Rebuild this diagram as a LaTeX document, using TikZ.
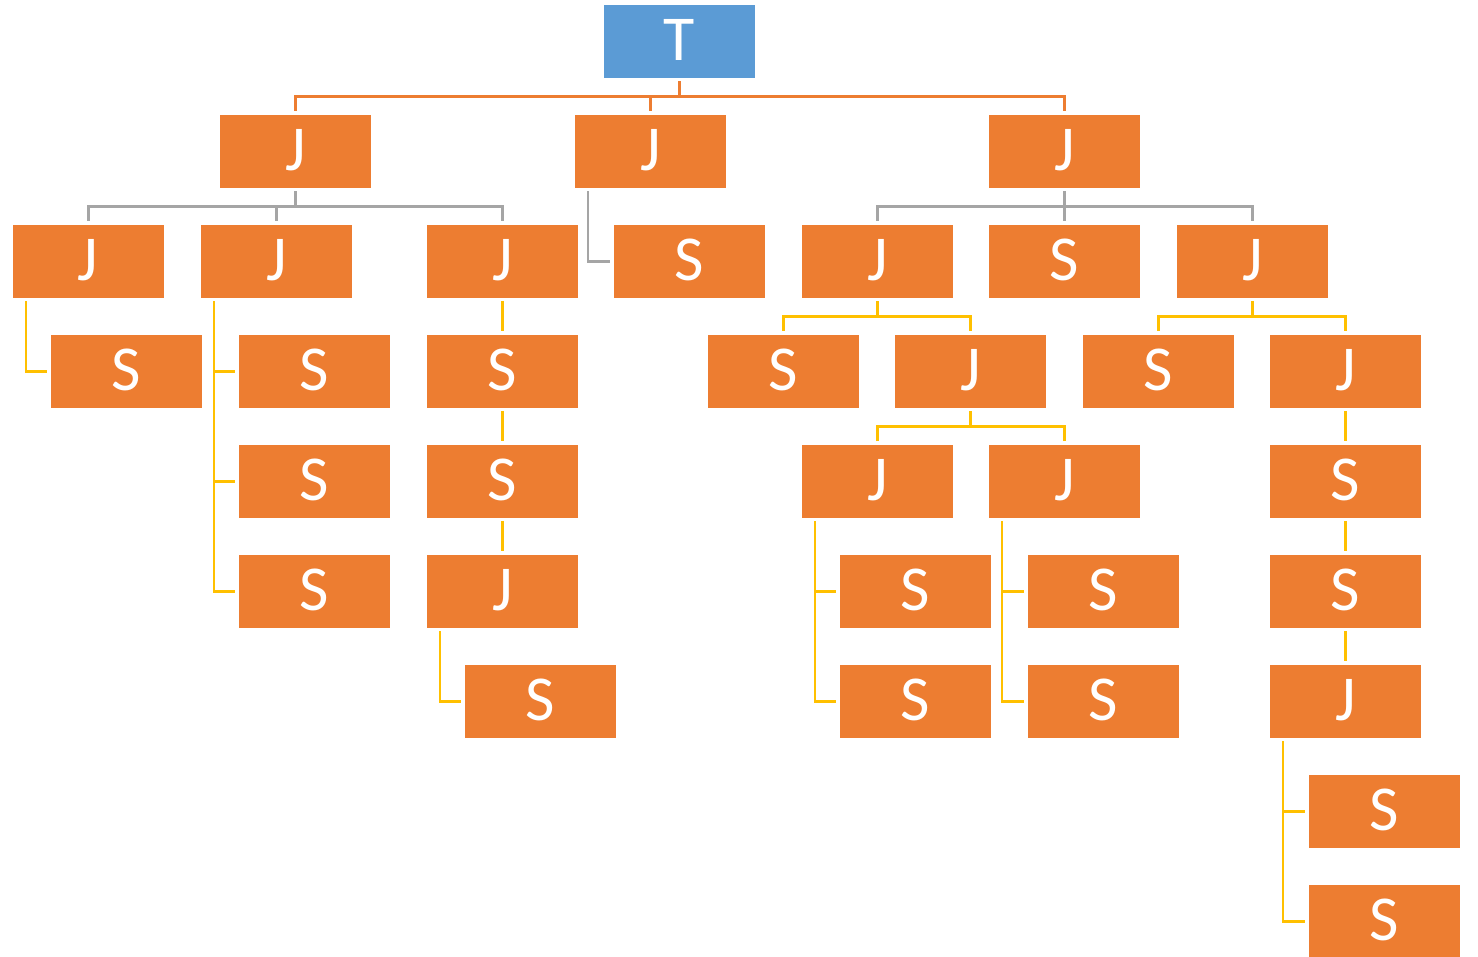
\documentclass[tikz,border=0pt]{standalone}
\usepackage{fontspec}
\setmainfont{Carlito}
\definecolor{borange}{HTML}{ED7D31}
\definecolor{bblue}{HTML}{5B9BD5}
\definecolor{lgray}{HTML}{A5A5A5}
\definecolor{lyellow}{HTML}{FFC000}
\tikzset{
  box/.style={anchor=north west, minimum width=152pt, minimum height=74pt, inner sep=0pt,
    fill=borange, draw=white, line width=0.4pt, text=white,
    font=\fontsize{64}{64}\selectfont},
  topbox/.style={box, fill=bblue},
  oline/.style={draw=borange, line width=2.7pt},
  gline/.style={draw=lgray, line width=2.7pt},
  yline/.style={draw=lyellow, line width=2.7pt},
}
\newcommand{\txt}[1]{\raisebox{2pt}{#1}}
\begin{document}
\begin{tikzpicture}[x=1pt,y=-1pt]
\useasboundingbox (0,0) rectangle (1478,957);
% row 0
\node[topbox] (T) at (603,4) {\txt{T}};
% row 1
\node[box] (a) at (219,114) {\txt{J}};
\node[box] (b) at (574,114) {\txt{J}};
\node[box] (c) at (988,114) {\txt{J}};
% row 2
\node[box] (a1) at (12,224) {\txt{J}};
\node[box] (a2) at (200,224) {\txt{J}};
\node[box] (a3) at (426,224) {\txt{J}};
\node[box] (b1) at (613,224) {\txt{S}};
\node[box] (c1) at (801,224) {\txt{J}};
\node[box] (c2) at (988,224) {\txt{S}};
\node[box] (c3) at (1176,224) {\txt{J}};
% row 3
\node[box] (a1s) at (50,334) {\txt{S}};
\node[box] (a2s1) at (238,334) {\txt{S}};
\node[box] (a3s1) at (426,334) {\txt{S}};
\node[box] (c1s) at (707,334) {\txt{S}};
\node[box] (c1j) at (894,334) {\txt{J}};
\node[box] (c3s) at (1082,334) {\txt{S}};
\node[box] (c3j) at (1269,334) {\txt{J}};
% row 4
\node[box] (a2s2) at (238,444) {\txt{S}};
\node[box] (a3s2) at (426,444) {\txt{S}};
\node[box] (c1ja) at (801,444) {\txt{J}};
\node[box] (c1jb) at (988,444) {\txt{J}};
\node[box] (c3s1) at (1269,444) {\txt{S}};
% row 5
\node[box] (a2s3) at (238,554) {\txt{S}};
\node[box] (a3j) at (426,554) {\txt{J}};
\node[box] (c1jas1) at (839,554) {\txt{S}};
\node[box] (c1jbs1) at (1027,554) {\txt{S}};
\node[box] (c3s2) at (1269,554) {\txt{S}};
% row 6
\node[box] (a3js) at (464,664) {\txt{S}};
\node[box] (c1jas2) at (839,664) {\txt{S}};
\node[box] (c1jbs2) at (1027,664) {\txt{S}};
\node[box] (c3j2) at (1269,664) {\txt{J}};
% row 7-8
\node[box] (c3j2s1) at (1308,774) {\txt{S}};
\node[box] (c3j2s2) at (1308,884) {\txt{S}};

% T -> level 1 (orange bus)
\draw[oline] ([yshift=-3pt]T.south) -- ([yshift=-18pt]T.south);
\foreach \n in {a,b,c}
  \draw[oline] ([yshift=3pt]\n.north) |- ([yshift=-18pt]T.south);

% a -> a1,a2,a3 (gray bus)
\draw[gline] ([yshift=-3pt]a.south) -- ([yshift=-18pt]a.south);
\foreach \n in {a1,a2,a3}
  \draw[gline] ([yshift=3pt]\n.north) |- ([yshift=-18pt]a.south);

% b -> b1 (gray side)
\draw[gline] ([xshift=14pt,yshift=-3pt]b.south west) |- ([xshift=-3pt]b1.west);

% c -> c1,c2,c3 (gray bus)
\draw[gline] ([yshift=-3pt]c.south) -- ([yshift=-18pt]c.south);
\foreach \n in {c1,c2,c3}
  \draw[gline] ([yshift=3pt]\n.north) |- ([yshift=-18pt]c.south);

% side connectors (yellow)
\draw[yline] ([xshift=14pt,yshift=-3pt]a1.south west) |- ([xshift=-3pt]a1s.west);
\foreach \n in {a2s1,a2s2,a2s3}
  \draw[yline] ([xshift=14pt,yshift=-3pt]a2.south west) |- ([xshift=-3pt]\n.west);
\draw[yline] ([xshift=14pt,yshift=-3pt]a3j.south west) |- ([xshift=-3pt]a3js.west);
\foreach \n in {c1jas1,c1jas2}
  \draw[yline] ([xshift=14pt,yshift=-3pt]c1ja.south west) |- ([xshift=-3pt]\n.west);
\foreach \n in {c1jbs1,c1jbs2}
  \draw[yline] ([xshift=14pt,yshift=-3pt]c1jb.south west) |- ([xshift=-3pt]\n.west);
\foreach \n in {c3j2s1,c3j2s2}
  \draw[yline] ([xshift=14pt,yshift=-3pt]c3j2.south west) |- ([xshift=-3pt]\n.west);

% vertical chains (yellow)
\draw[yline] ([yshift=-3pt]a3.south) -- ([yshift=3pt]a3s1.north);
\draw[yline] ([yshift=-3pt]a3s1.south) -- ([yshift=3pt]a3s2.north);
\draw[yline] ([yshift=-3pt]a3s2.south) -- ([yshift=3pt]a3j.north);
\draw[yline] ([yshift=-3pt]c3j.south) -- ([yshift=3pt]c3s1.north);
\draw[yline] ([yshift=-3pt]c3s1.south) -- ([yshift=3pt]c3s2.north);
\draw[yline] ([yshift=-3pt]c3s2.south) -- ([yshift=3pt]c3j2.north);

% yellow buses
\draw[yline] ([yshift=-3pt]c1.south) -- ([yshift=-18pt]c1.south);
\foreach \n in {c1s,c1j}
  \draw[yline] ([yshift=3pt]\n.north) |- ([yshift=-18pt]c1.south);
\draw[yline] ([yshift=-3pt]c3.south) -- ([yshift=-18pt]c3.south);
\foreach \n in {c3s,c3j}
  \draw[yline] ([yshift=3pt]\n.north) |- ([yshift=-18pt]c3.south);
\draw[yline] ([yshift=-3pt]c1j.south) -- ([yshift=-18pt]c1j.south);
\foreach \n in {c1ja,c1jb}
  \draw[yline] ([yshift=3pt]\n.north) |- ([yshift=-18pt]c1j.south);
\end{tikzpicture}
\end{document}
